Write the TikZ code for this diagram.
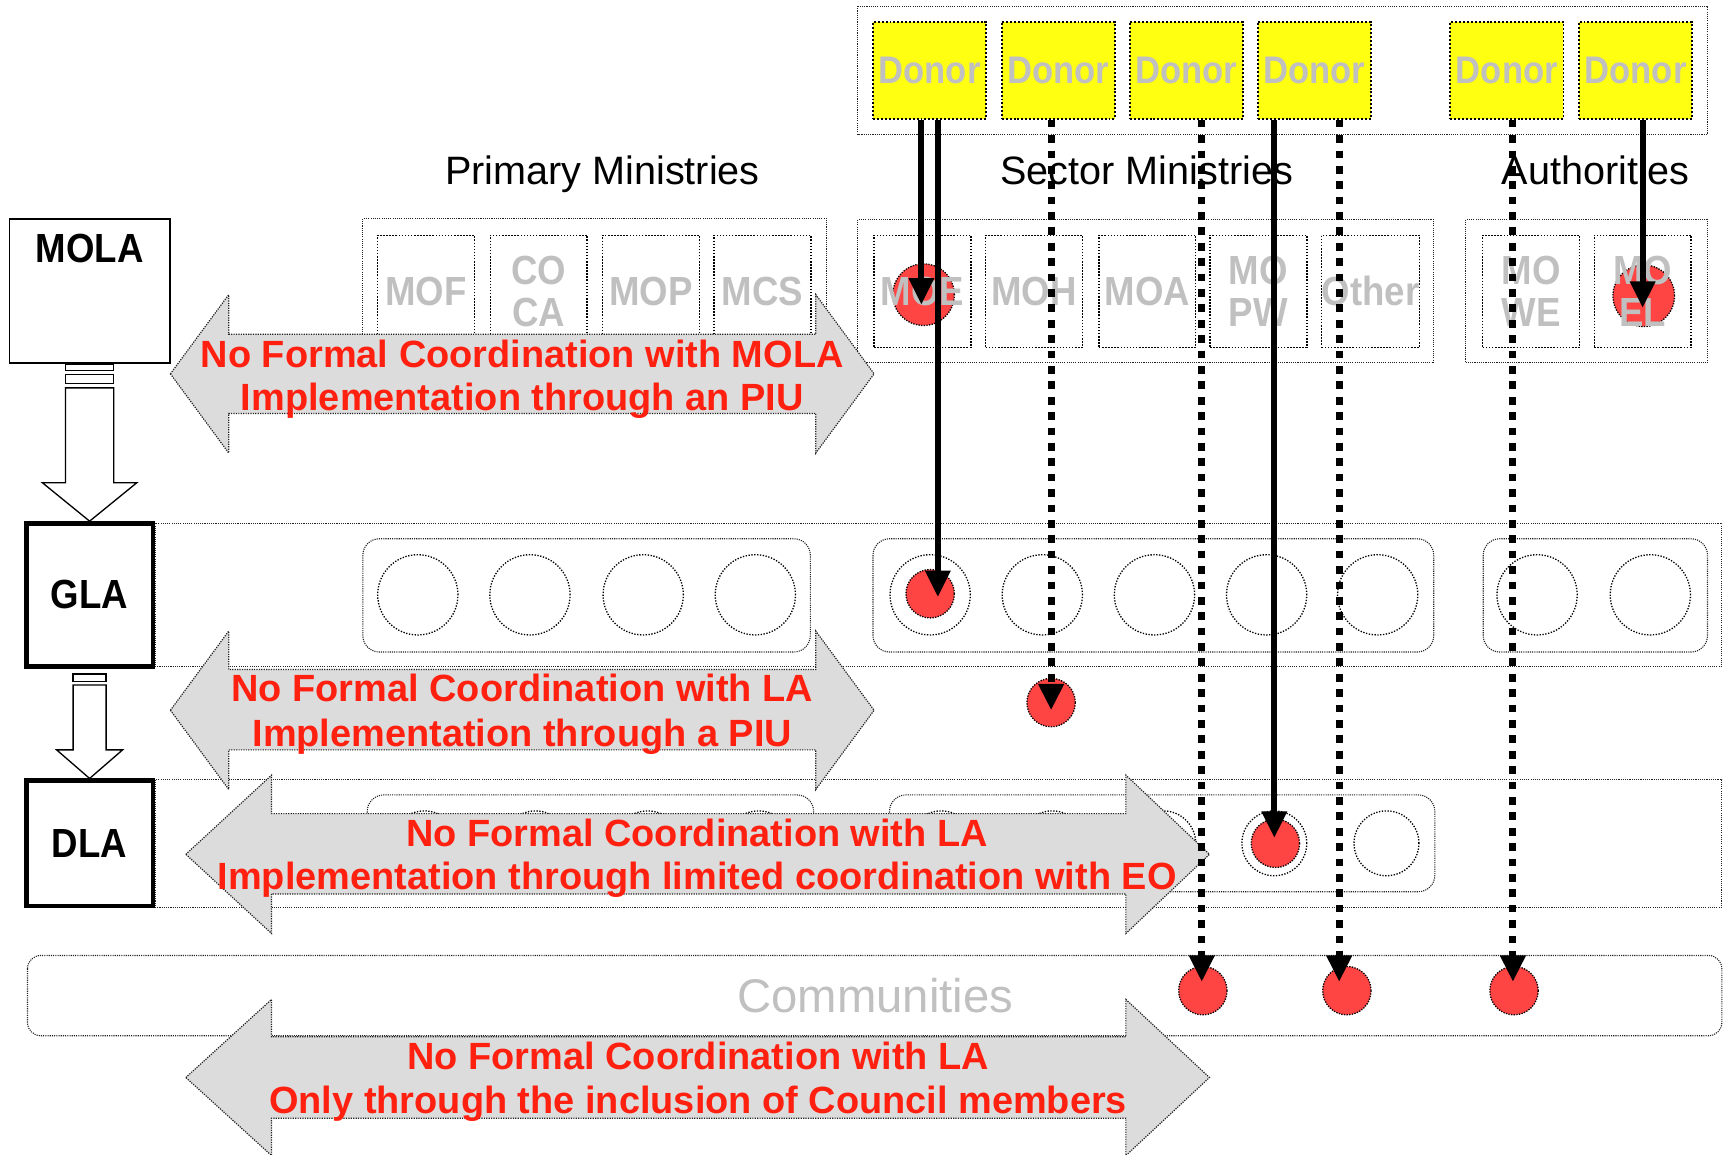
\documentclass[tikz,border=0pt]{standalone}
\usepackage{fontspec}
\setmainfont{Liberation Sans}
\newfontfamily\cfc[FakeStretch=0.9]{Liberation Sans}
\usetikzlibrary{arrows.meta,calc}
\definecolor{dotred}{HTML}{FF4444}
\definecolor{txtred}{HTML}{FF2010}
\definecolor{lblgray}{HTML}{C0C0C0}
\definecolor{arrgray}{HTML}{DCDCDC}
\definecolor{donory}{HTML}{FFFF11}
\definecolor{linegray}{HTML}{222222}
\tikzset{
  thinbox/.style={draw=linegray, line width=1pt, dash pattern=on 1pt off 1pt},
  innerbox/.style={draw=black, line width=1.4pt, dash pattern=on 1.4pt off 1.4pt,
    minimum width=88pt, minimum height=102pt, inner sep=0pt,
    font=\cfc\bfseries\fontsize{37}{38}\selectfont, text=lblgray, align=center},
  donorbox/.style={draw=black, fill=donory, line width=1.8pt, dash pattern=on 1.8pt off 1.8pt,
    minimum width=103pt, minimum height=88pt, inner sep=0pt,
    font=\cfc\bfseries\fontsize{35}{38}\selectfont, text=lblgray},
  circ/.style={circle, draw=black, line width=1.2pt, dash pattern=on 1.2pt off 1.4pt,
    inner sep=0pt, minimum size=73pt},
  dcirc/.style={circ, minimum size=59pt},
  reddot/.style={circle, fill=dotred, draw=black, line width=1.2pt, dash pattern=on 1.2pt off 1.2pt,
    inner sep=0pt, minimum size=44pt},
  bigred/.style={reddot, minimum size=56pt},
  bigarrow/.style={fill=arrgray, draw=linegray, line width=1.1pt, dash pattern=on 1.1pt off 1.1pt},
  redtxt/.style={text=txtred, font=\bfseries\fontsize{34.5}{40}\selectfont, anchor=base, inner sep=0pt},
  titletxt/.style={text=black, font=\fontsize{36}{40}\selectfont, anchor=base, inner sep=0pt},
  levelbox/.style={draw=black, fill=white, inner sep=0pt},
  leveltxt/.style={text=black, font=\cfc\bfseries\fontsize{37}{40}\selectfont, inner sep=0pt},
  blockarr/.style={draw=black, fill=white, line width=1.2pt},
  solidarr/.style={line width=5.5pt, -{Triangle[length=24pt,width=22pt]}},
  dasharr/.style={line width=6.5pt, dash pattern=on 7pt off 7pt, -{Triangle[length=24pt,width=22pt]}},
}
\begin{document}
\begin{tikzpicture}[x=1pt,y=-1pt]
\useasboundingbox (0,0) rectangle (1568,1050);

% ---------- donors ----------
\draw[thinbox] (780,5.5) rectangle (1553,122);
\node[donorbox] (d1) at (845.5,64) {Donor};
\node[donorbox] (d2) at (962.5,64) {Donor};
\node[donorbox] (d3) at (1079,64) {Donor};
\node[donorbox] (d4) at (1195.5,64) {Donor};
\node[donorbox] (d5) at (1370.5,64) {Donor};
\node[donorbox] (d6) at (1487.5,64) {Donor};

% ---------- titles ----------
\node[titletxt] (tprim) at (548,168) {Primary Ministries};
\node[titletxt] (tsect) at (1043,168) {Sector Ministries};
\node[titletxt] (tauth) at (1451,168) {Authorities};

% ---------- bands ----------
\draw[thinbox] (141,476) rectangle (1566,606);
\draw[thinbox] (141,709) rectangle (1566,825);
\draw[thinbox, rounded corners=12pt] (25,869) rectangle (1566,942);
\node[text=lblgray, font=\fontsize{43}{46}\selectfont, anchor=base, inner sep=0pt] (comm) at (796,921) {Communities};

% ---------- level boxes ----------
\node[levelbox, line width=1.5pt, minimum width=146pt, minimum height=131pt] (mola) at (81.5,264.5) {};
\node[leveltxt] (molat) at (81.5,226) {MOLA};
\node[levelbox, line width=4pt, minimum width=115pt, minimum height=130pt, font=\cfc\bfseries\fontsize{37}{40}\selectfont] (gla) at (81.5,541) {GLA};
\node[levelbox, line width=4pt, minimum width=115pt, minimum height=114pt, font=\cfc\bfseries\fontsize{37}{40}\selectfont] (dla) at (81.5,767) {DLA};

% MOLA -> GLA
\draw[blockarr] ($(mola.south)+(-22,1)$) rectangle ($(mola.south)+(22,6)$);
\draw[blockarr] ($(mola.south)+(-22,10)$) rectangle ($(mola.south)+(22,18)$);
\draw[blockarr] ($(mola.south)+(-22,22)$) -- ($(mola.south)+(22,22)$) -- ($(gla.north)+(22,-35)$)
  -- ($(gla.north)+(43,-35)$) -- (gla.north) -- ($(gla.north)+(-43,-35)$) -- ($(gla.north)+(-22,-35)$) -- cycle;
% GLA -> DLA
\draw[blockarr] ($(gla.south)+(-15,5)$) rectangle ($(gla.south)+(15,12)$);
\draw[blockarr] ($(gla.south)+(-15,15)$) -- ($(gla.south)+(15,15)$) -- ($(dla.north)+(15,-26)$)
  -- ($(dla.north)+(30,-26)$) -- (dla.north) -- ($(dla.north)+(-30,-26)$) -- ($(dla.north)+(-15,-26)$) -- cycle;

% ---------- ministry boxes ----------
\draw[thinbox] (330,199) rectangle (752,329);
\draw[thinbox] (780,200) rectangle (1304,330);
\draw[thinbox] (1333,200) rectangle (1553,330);

\node[bigred] (rmoe) at (840,268) {};
\node[bigred] (rmoel) at (1495,269) {};

\node[innerbox] (mof) at (387.5,265) {MOF};
\node[innerbox] (coca) at (490,265) {CO\\CA};
\node[innerbox] (mop) at (592,265) {MOP};
\node[innerbox] (mcs) at (693.5,265) {MCS};
\node[innerbox] (moe) at (839,265) {MOE};
\node[innerbox] (moh) at (940.5,265) {MOH};
\node[innerbox] (moa) at (1043.5,265) {MOA};
\node[innerbox] (mopw) at (1144.5,265) {MO\\PW};
\node[innerbox] (other) at (1246.5,265) {Other};
\node[innerbox] (mowe) at (1392.5,265) {MO\\WE};
\node[innerbox] (moel) at (1494,265) {MO\\EL};

% ---------- GLA row ----------
\draw[thinbox, rounded corners=15pt] (330,490) rectangle (737,593);
\draw[thinbox, rounded corners=15pt] (794,490) rectangle (1304,593);
\draw[thinbox, rounded corners=15pt] (1349,490) rectangle (1553,593);
\foreach \x/\n in {380/g1,482/g2,585/g3,687/g4,846/g5,948/g6,1050/g7,1152/g8,1253/g9,1398/g10,1501/g11}
  \node[circ] (\n) at (\x,541) {};
\node[reddot] (rgla) at (846,540) {};

\node[reddot] (rpiu) at (956,639) {};

% ---------- DLA row ----------
\draw[thinbox, rounded corners=15pt] (334,723) rectangle (740,811);
\draw[thinbox, rounded corners=15pt] (809,723) rectangle (1305,811);
\foreach \x/\n in {386/h1,487/h2,589/h3,690/h4,856/h5,957/h6,1058/h7,1159/h8,1261/h9}
  \node[dcirc] (\n) at (\x,767) {};
\node[reddot] (rdla) at (1160,767) {};

% ---------- community dots ----------
\node[reddot] (rc1) at (1094,901) {};
\node[reddot] (rc2) at (1225,901) {};
\node[reddot] (rc3) at (1377,901) {};

% ---------- big double arrows ----------
\draw[bigarrow] (155,340) -- (208,268) -- (208,304) -- (742,304) -- (742,268) -- (795,340)
  -- (742,412) -- (742,376) -- (208,376) -- (208,412) -- cycle;
\node[redtxt] (t1a) at (475,334) {No Formal Coordination with MOLA};
\node[redtxt] (t1b) at (475,373) {Implementation through an PIU};

\draw[bigarrow] (155,646) -- (208,574) -- (208,609) -- (742,609) -- (742,574) -- (795,646)
  -- (742,718) -- (742,682) -- (208,682) -- (208,718) -- cycle;
\node[redtxt] (t2a) at (475,638) {No Formal Coordination with LA};
\node[redtxt] (t2b) at (475,679) {Implementation through a PIU};

\draw[bigarrow] (169,777) -- (247,705) -- (247,740) -- (1024,740) -- (1024,705) -- (1100,777)
  -- (1024,849) -- (1024,813) -- (247,813) -- (247,849) -- cycle;
\node[redtxt] (t3a) at (634,770) {No Formal Coordination with LA};
\node[redtxt] (t3b) at (634,809) {Implementation through limited coordination with EO};

\draw[bigarrow] (169,980) -- (247,909) -- (247,943) -- (1024,943) -- (1024,909) -- (1100,980)
  -- (1024,1051) -- (1024,1017) -- (247,1017) -- (247,1051) -- cycle;
\node[redtxt] (t4a) at (635,973) {No Formal Coordination with LA};
\node[redtxt] (t4b) at (635,1013) {Only through the inclusion of Council members};

% ---------- donor flows ----------
\draw[solidarr] ($(d1.south)+(-7.5,0)$) -- ($(rmoe.center)+(-2,9)$);
\draw[solidarr] ($(d1.south)+(7.5,0)$) -- ($(rgla.center)+(7,3)$);
\draw[dasharr] ($(d2.south)+(-6.5,0)$) -- ($(rpiu.center)+(0,7)$);
\draw[dasharr] ($(d3.south)+(14,0)$) -- ($(rc1.center)+(-1,-8)$);
\draw[solidarr] ($(d4.south)+(-36.5,0)$) -- ($(rdla.center)+(-1,-5)$);
\draw[dasharr] ($(d4.south)+(22.5,0)$) -- ($(rc2.center)+(-7,-8)$);
\draw[dasharr] ($(d5.south)+(5.5,0)$) -- ($(rc3.center)+(-1,-8)$);
\draw[solidarr] ($(d6.south)+(6.5,0)$) -- ($(rmoel.center)+(-1,11)$);
\end{tikzpicture}
\end{document}
